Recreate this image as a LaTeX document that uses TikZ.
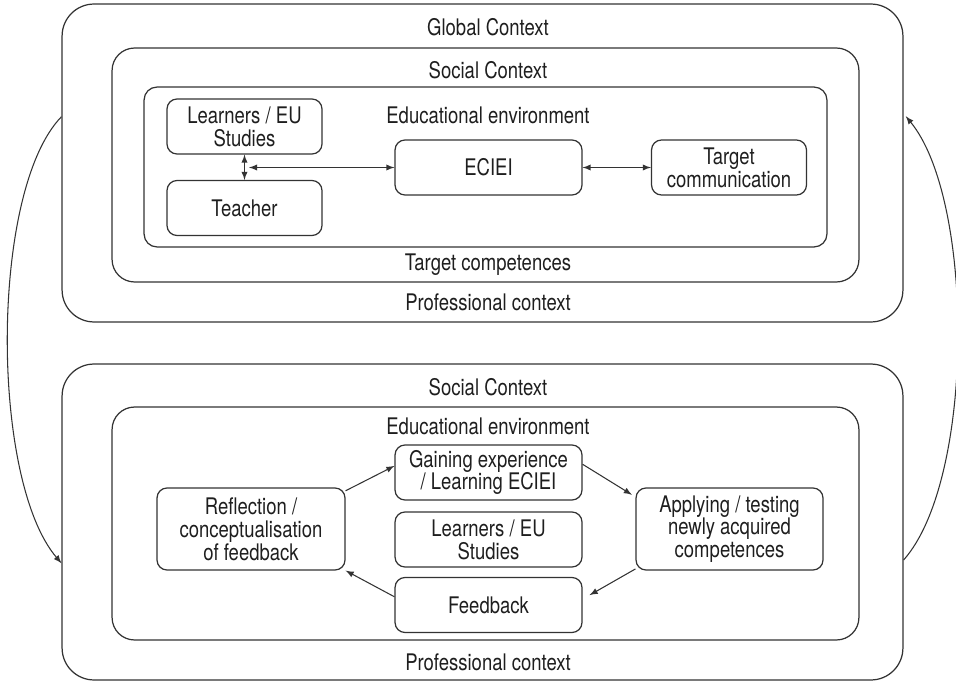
\documentclass[tikz,border=0pt]{standalone}
\usepackage{fontspec}
\setmainfont{TeX Gyre Heros}[FakeStretch=0.81]
\usepackage{xcolor}
\usepackage{tikz}
\usetikzlibrary{arrows, positioning, calc}
\definecolor{linegray}{HTML}{333333}
\definecolor{textgray}{HTML}{1E1E1E}

\begin{document}
\begin{tikzpicture}[
  x=0.02cm, y=-0.02cm,
  every node/.style={font=\fontsize{13}{13}\selectfont, text=textgray},
  frame/.style={rectangle, draw=linegray, line width=0.7pt, inner sep=0pt},
  unit/.style={rectangle, rounded corners=0.2cm, draw=linegray, line width=0.7pt, minimum height=1.1cm, align=center, inner sep=0pt},
  arrow/.style={-latex, line width=0.6pt, draw=linegray}
]
  \useasboundingbox (0,0) rectangle (956,682);

  \node[frame, minimum width=16.82cm, minimum height=6.36cm, rounded corners=0.64cm] (globalbox) at (482.5,163) {};
  \node[frame, minimum width=14.94cm, minimum height=4.68cm, rounded corners=0.45cm] (socialtop) at (485.5,165) {};
  \node[frame, minimum width=13.66cm, minimum height=3.2cm, rounded corners=0.26cm] (edutop) at (485.5,167) {};
  \node[frame, minimum width=16.82cm, minimum height=6.32cm, rounded corners=0.64cm] (profbox) at (482.5,522) {};
  \node[frame, minimum width=14.94cm, minimum height=4.66cm, rounded corners=0.45cm] (edubottom) at (485.5,523.5) {};

  \node (lglobal) at (488,27) {Global Context};
  \node (lsocialtop) at (488,70) {Social Context};
  \node (ledutop) at (488,115) {Educational environment};
  \node (ltarget) at (488,265) {Target competences};
  \node (lproftop) at (488,302) {Professional context};
  \node (lsocialbot) at (488,387) {Social Context};
  \node (ledubot) at (488,426) {Educational environment};
  \node (lprofbot) at (488,662) {Professional context};

  \node[unit, minimum width=3.1cm] (learners) at (244.5,126.5) {Learners / EU\\Studies};
  \node[unit, minimum width=3.1cm] (teacher) at (244.5,208) {Teacher};
  \node[unit, minimum width=3.74cm] (eciei) at (488.5,167.5) {ECIEI};
  \node[unit, minimum width=3.1cm] (targetcom) at (729,167.5) {Target\\communication};
  \coordinate (split) at (249,167.5);

  \node[unit, minimum width=3.74cm] (gaining) at (488.5,472.5) {Gaining experience\\/ Learning ECIEI};
  \node[unit, minimum width=3.74cm] (learnersb) at (488.5,539.5) {Learners / EU\\Studies};
  \node[unit, minimum width=3.74cm] (feedback) at (488.5,605) {Feedback};
  \node[unit, minimum width=3.76cm, minimum height=1.64cm] (reflection) at (251,529) {Reflection /\\conceptualisation\\of feedback};
  \node[unit, minimum width=3.74cm, minimum height=1.64cm] (applying) at (729.5,529) {Applying / testing\\newly acquired\\competences};

  \draw[arrow, latex-latex] (learners) -- (teacher);
  \draw[arrow, latex-latex] (split) -- (eciei);
  \draw[arrow, latex-latex] (eciei) -- (targetcom);

  \draw[arrow] (reflection.22) -- (gaining.176);
  \draw[arrow] (gaining.5) -- ([xshift=-2pt]applying.160);
  \draw[arrow] (applying.203) -- ([xshift=4pt]feedback.6);
  \draw[arrow] (feedback.175) -- (reflection.south east);

  \draw[arrow] ($(globalbox.north west)!0.355!(globalbox.south west)$) .. controls (-10,190) and (-10,480) .. ($(profbox.north west)!0.63!(profbox.south west)$);
  \draw[arrow, shorten >=2pt] ($(profbox.north east)!0.62!(profbox.south east)$) .. controls (975,480) and (975,200) .. ($(globalbox.north east)!0.345!(globalbox.south east)$);
\end{tikzpicture}
\end{document}
